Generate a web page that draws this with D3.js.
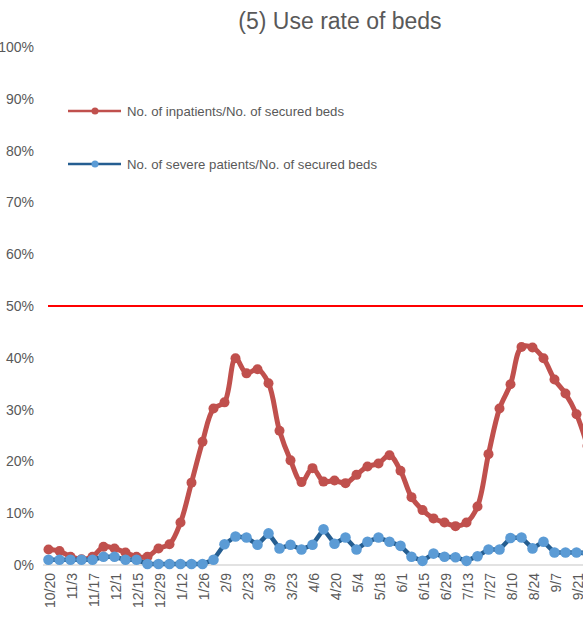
<!DOCTYPE html>
<html>
<head>
<meta charset="utf-8">
<script src="https://cdn.jsdelivr.net/npm/d3@7"></script>
<style>
  html, body { margin: 0; padding: 0; background: #fff; overflow: hidden; }
  svg { display: block; font-family: "Liberation Sans", Arial, sans-serif; }
</style>
</head>
<body>
<svg id="chart" width="583" height="627"></svg>
<script>
// ---- data ----
const categories = ["10/20","10/27","11/3","11/10","11/17","11/24","12/1","12/8","12/15","12/22","12/29","1/5","1/12","1/19","1/26","2/2","2/9","2/16","2/23","3/2","3/9","3/16","3/23","3/30","4/6","4/13","4/20","4/27","5/4","5/11","5/18","5/25","6/1","6/8","6/15","6/22","6/29","7/6","7/13","7/20","7/27","8/3","8/10","8/17","8/24","8/31","9/7","9/14","9/21","9/28"];
const inpatients = [3.0,2.7,1.6,1.1,1.6,3.5,3.2,2.4,1.6,1.6,3.2,4.0,8.2,15.9,23.8,30.2,31.4,39.9,37.0,37.8,35.1,25.9,20.2,16.0,18.7,16.1,16.3,15.8,17.4,19.0,19.6,21.2,18.2,13.1,10.6,9.0,8.2,7.5,8.2,11.3,21.4,30.2,34.9,42.1,42.0,39.9,35.8,33.1,29.1,23.0];
const severe = [1.0,1.0,1.0,1.0,1.0,1.6,1.6,1.0,1.0,0.2,0.2,0.2,0.2,0.2,0.2,1.0,4.0,5.5,5.3,3.9,6.1,3.2,3.9,3.0,3.9,6.9,4.1,5.3,3.0,4.5,5.3,4.5,3.7,1.6,0.8,2.2,1.6,1.5,0.8,1.7,3.0,3.0,5.2,5.3,3.2,4.5,2.4,2.4,2.4,2.3];
const yTicks = [0,10,20,30,40,50,60,70,80,90,100];
const threshold = 50;
const seriesNames = ["No. of inpatients/No. of secured beds","No. of severe patients/No. of secured beds"];
const title = "(5) Use rate of beds";

// ---- layout ----
const svg = d3.select("#chart");
const x = d3.scalePoint().domain(categories).range([48.5, 48.5 + 11 * (categories.length - 1)]);
const y = d3.scaleLinear().domain([0, 100]).range([565, 47]);
const textColor = "#595959";

// title
svg.append("text").attr("x", 340).attr("y", 29).attr("text-anchor", "middle")
  .attr("font-size", 23).attr("fill", textColor).text(title);

// y axis labels
const yAxis = d3.axisLeft(y).tickValues(yTicks).tickFormat(d => d + "%").tickSize(0).tickPadding(0);
const gy = svg.append("g").attr("transform", "translate(34,0)").call(yAxis);
gy.select(".domain").remove();
gy.selectAll("text").attr("font-size", 14).attr("fill", textColor)
  .attr("font-family", "Liberation Sans, Arial, sans-serif");

// x axis
svg.append("line").attr("x1", 43).attr("x2", 583).attr("y1", y(0)).attr("y2", y(0))
  .attr("stroke", "#d9d9d9").attr("stroke-width", 1.5);
const xAxis = d3.axisBottom(x).tickValues(categories.filter((d, i) => i % 2 === 0)).tickSize(0).tickPadding(0);
const gx = svg.append("g").attr("transform", `translate(0,${y(0)})`).call(xAxis);
gx.select(".domain").remove();
gx.selectAll("text").attr("font-size", 14).attr("fill", textColor)
  .attr("font-family", "Liberation Sans, Arial, sans-serif")
  .attr("text-anchor", "end").attr("dy", "0.35em")
  .attr("transform", "translate(1,8) rotate(-90)");

// threshold line
svg.append("line").attr("x1", 48).attr("x2", 583).attr("y1", y(threshold)).attr("y2", y(threshold))
  .attr("stroke", "#ff0000").attr("stroke-width", 2);

// series
const red = "#c0504d", blueLine = "#255e91", blueMark = "#5b9bd5";
const lineSmooth = d3.line().x((d, i) => x(categories[i])).y(d => y(d)).curve(d3.curveCatmullRom.alpha(0.5));
const lineStraight = d3.line().x((d, i) => x(categories[i])).y(d => y(d));

svg.append("path").attr("d", lineSmooth(inpatients)).attr("fill", "none")
  .attr("stroke", red).attr("stroke-width", 5).attr("stroke-linejoin", "round");
svg.append("g").selectAll("circle").data(inpatients).join("circle")
  .attr("cx", (d, i) => x(categories[i])).attr("cy", d => y(d)).attr("r", 5).attr("fill", red);

svg.append("path").attr("d", lineStraight(severe)).attr("fill", "none")
  .attr("stroke", blueLine).attr("stroke-width", 4.5).attr("stroke-linejoin", "round");
svg.append("g").selectAll("circle").data(severe).join("circle")
  .attr("cx", (d, i) => x(categories[i])).attr("cy", d => y(d)).attr("r", 5.3).attr("fill", blueMark);

// legend
const legend = [
  { name: seriesNames[0], line: red, mark: red, y: 111 },
  { name: seriesNames[1], line: blueLine, mark: blueMark, y: 164 }
];
const lg = svg.append("g");
legend.forEach(l => {
  lg.append("line").attr("x1", 68).attr("x2", 121).attr("y1", l.y).attr("y2", l.y)
    .attr("stroke", l.line).attr("stroke-width", 2.5);
  lg.append("circle").attr("cx", 95).attr("cy", l.y).attr("r", 3.5).attr("fill", l.mark);
  lg.append("text").attr("x", 127).attr("y", l.y).attr("dy", "0.35em")
    .attr("font-size", 13.2).attr("fill", textColor).text(l.name);
});
</script>
</body>
</html>
